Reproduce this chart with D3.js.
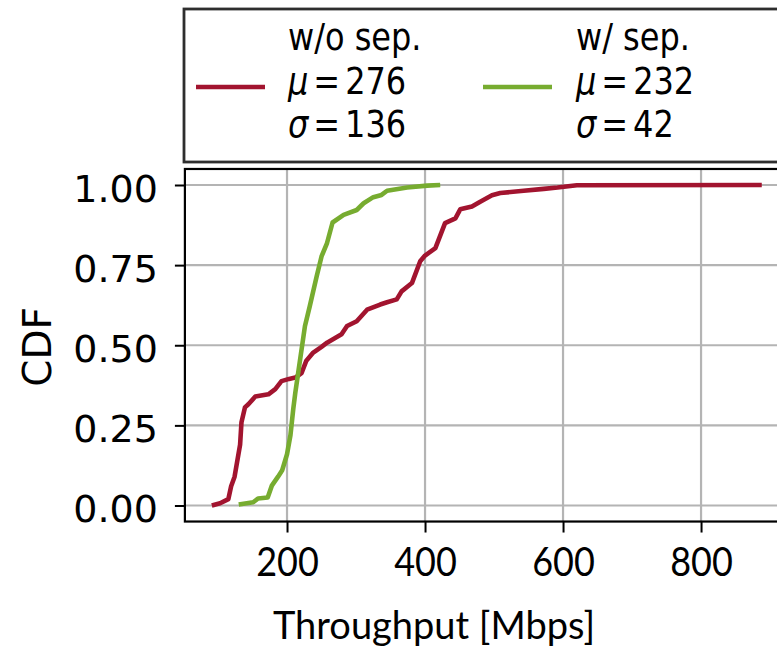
<!DOCTYPE html>
<html>
<head>
<meta charset="utf-8">
<script src="https://cdn.jsdelivr.net/npm/d3@7"></script>
<style>
  body { margin: 0; background: #fff; }
</style>
</head>
<body>
<svg id="chart" width="777" height="646"></svg>
<script>
// Axis ticks
const xTicks = [200, 400, 600, 800];
const yTicks = [0, 0.25, 0.5, 0.75, 1.0];

// Empirical CDF of throughput without separation (Mbps, CDF)
const noSepThroughput = [91, 103, 115, 119, 124, 132, 134, 139, 144, 154, 173, 183, 192, 203, 212, 221, 228, 238, 250, 258, 279, 287, 301, 316, 335, 345, 359, 366, 381, 393, 400, 415, 429, 444, 451, 468, 480, 497, 509, 543, 572, 592, 620, 888];
const noSepCdf        = [0.0, 0.007, 0.02, 0.06, 0.09, 0.19, 0.26, 0.306, 0.316, 0.34, 0.347, 0.363, 0.388, 0.395, 0.399, 0.413, 0.452, 0.477, 0.495, 0.508, 0.534, 0.56, 0.575, 0.611, 0.627, 0.634, 0.643, 0.668, 0.694, 0.762, 0.78, 0.803, 0.881, 0.896, 0.924, 0.933, 0.948, 0.968, 0.975, 0.982, 0.988, 0.992, 0.999, 1.0];

// Empirical CDF of throughput with separation (Mbps, CDF)
const sepThroughput = [130, 151, 158, 172, 178, 187, 193, 200, 205, 209, 212, 219, 226, 233, 243, 250, 258, 266, 282, 301, 311, 325, 337, 345, 374, 403, 422];
const sepCdf        = [0.003, 0.01, 0.022, 0.025, 0.062, 0.09, 0.11, 0.16, 0.22, 0.3, 0.352, 0.456, 0.56, 0.622, 0.715, 0.777, 0.819, 0.883, 0.907, 0.922, 0.943, 0.962, 0.969, 0.982, 0.992, 0.998, 1.0];

// Legend entries
const seriesNames = ["w/o sep.", "w/ sep."];
const seriesMeans = [276, 232];
const seriesStds  = [136, 42];

const COLORS = ["#A2142F", "#77AC30"];
const MONO = "'DejaVu Sans', sans-serif";
const HUMANIST = "Lato, 'Open Sans', sans-serif";
const LINE_W = 4.6;

const svg = d3.select("#chart");

const x = d3.scaleLinear().domain([52, 925]).range([184.9, 787.3]);
const y = d3.scaleLinear().domain([0, 1]).range([505.5, 185]);

const plotLeft = x(52), plotRight = x(925), plotTop = y(1.05), plotBottom = y(-0.05);

// grid
const grid = svg.append("g");
grid.selectAll("line.gx").data(xTicks).join("line")
  .attr("class", "gx")
  .attr("x1", d => x(d)).attr("x2", d => x(d))
  .attr("y1", plotTop).attr("y2", plotBottom)
  .attr("stroke", "#b4b4b4").attr("stroke-width", 2.2);
grid.selectAll("line.gy").data(yTicks).join("line")
  .attr("class", "gy")
  .attr("x1", plotLeft).attr("x2", plotRight)
  .attr("y1", d => y(d)).attr("y2", d => y(d))
  .attr("stroke", "#b4b4b4").attr("stroke-width", 2.2);

// curves
const line = d3.line().x(d => x(d[0])).y(d => y(d[1]));
const series = [
  d3.zip(noSepThroughput, noSepCdf),
  d3.zip(sepThroughput, sepCdf)
];
svg.append("g").selectAll("path").data(series).join("path")
  .attr("d", line)
  .attr("fill", "none")
  .attr("stroke", (d, i) => COLORS[i])
  .attr("stroke-width", LINE_W)
  .attr("stroke-linejoin", "round")
  .attr("stroke-linecap", "butt");

// frame
svg.append("rect")
  .attr("x", plotLeft).attr("y", plotTop)
  .attr("width", plotRight - plotLeft).attr("height", plotBottom - plotTop)
  .attr("fill", "none").attr("stroke", "#000").attr("stroke-width", 2.2);

// y axis
const yAxis = svg.append("g")
  .attr("transform", `translate(${plotLeft},0)`)
  .call(d3.axisLeft(y).tickValues(yTicks).tickFormat(d3.format(".2f")).tickSize(10).tickPadding(17));
yAxis.select(".domain").remove();
yAxis.selectAll(".tick line").attr("stroke", "#000").attr("stroke-width", 2);
yAxis.selectAll(".tick text")
  .attr("font-family", MONO).attr("font-size", 38).attr("fill", "#000")
  .attr("dy", "0.43em");

// x axis
const xAxis = svg.append("g")
  .attr("transform", `translate(0,${plotBottom})`)
  .call(d3.axisBottom(x).tickValues(xTicks).tickFormat(d3.format("d")).tickSize(11).tickPadding(0));
xAxis.select(".domain").remove();
xAxis.selectAll(".tick line").attr("stroke", "#000").attr("stroke-width", 2);
xAxis.selectAll(".tick text")
  .attr("font-family", HUMANIST).attr("font-size", 40).attr("fill", "#000")
  .attr("y", 0).attr("dy", 0)
  .attr("transform", `translate(0,${576 - plotBottom}) scale(0.9,1)`);

// axis titles
svg.append("text")
  .attr("x", 434).attr("y", 639)
  .attr("text-anchor", "middle")
  .attr("font-family", HUMANIST).attr("font-size", 38)
  .text("Throughput [Mbps]");

svg.append("text")
  .attr("transform", "translate(51,347) rotate(-90)")
  .attr("text-anchor", "middle")
  .attr("font-family", MONO).attr("font-size", 39)
  .text("CDF");

// legend
const legend = svg.append("g");
legend.append("rect")
  .attr("x", 184).attr("y", 9)
  .attr("width", 700).attr("height", 153)
  .attr("fill", "#fff").attr("stroke", "#2e2e2e").attr("stroke-width", 2.8);

const entryX = [196, 483];
const textX = [288, 576];
seriesNames.forEach((name, i) => {
  legend.append("line")
    .attr("x1", entryX[i]).attr("x2", entryX[i] + 69)
    .attr("y1", 87).attr("y2", 87)
    .attr("stroke", COLORS[i]).attr("stroke-width", LINE_W);
  const lines = [
    [null, name],
    ["\u03bc", String(seriesMeans[i])],
    ["\u03c3", String(seriesStds[i])]
  ];
  const baselines = [50, 94, 137];
  lines.forEach((ln, k) => {
    const t = legend.append("text")
      .attr("transform", `translate(${textX[i]},${baselines[k]}) scale(1,1.16)`)
      .attr("font-family", MONO).attr("font-size", 32).attr("fill", "#000");
    if (ln[0] === null) {
      t.text(ln[1]);
    } else {
      t.append("tspan").attr("font-style", "italic").text(ln[0]);
      t.append("tspan").attr("dx", 5).text("=");
      t.append("tspan").attr("dx", 5).text(ln[1]);
    }
  });
});
</script>
</body>
</html>
